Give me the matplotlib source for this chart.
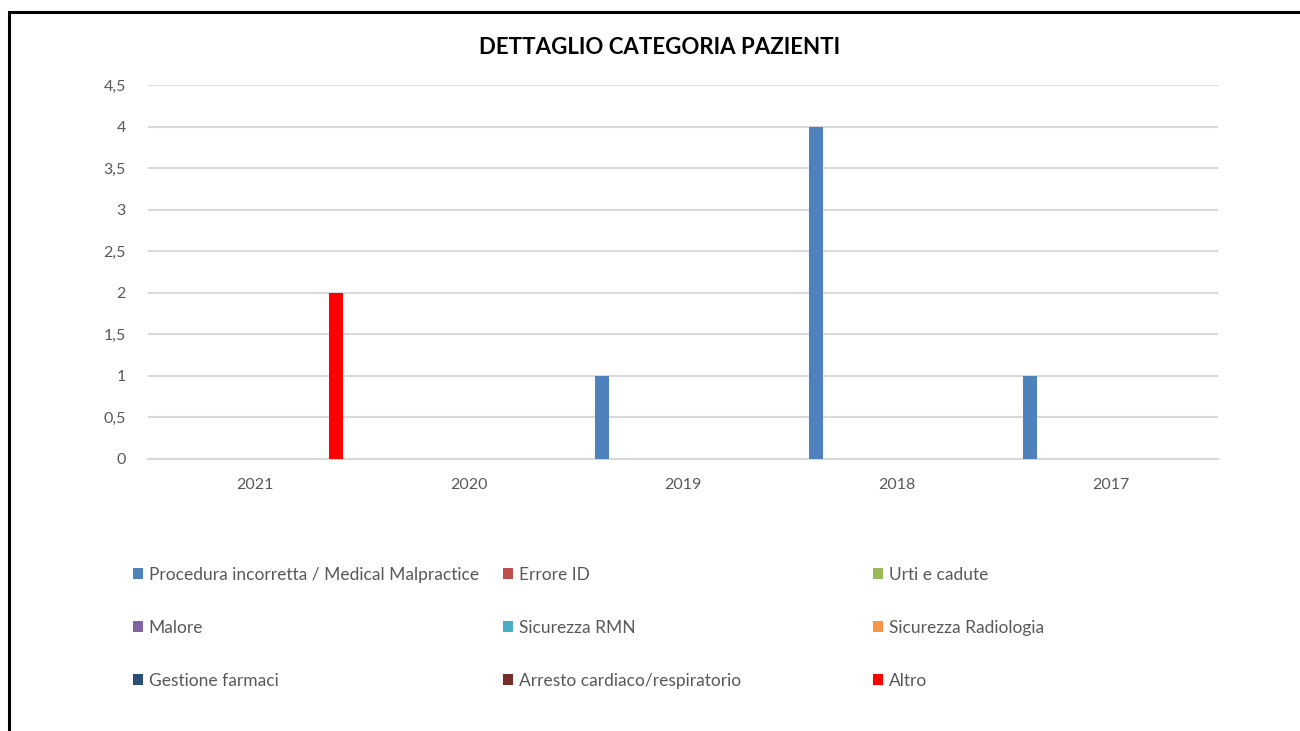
import matplotlib
matplotlib.use("Agg")
import matplotlib.pyplot as plt
from matplotlib.patches import Rectangle, Patch
import numpy as np

years = ["2021", "2020", "2019", "2018", "2017"]
series_names = [
    "Procedura incorretta / Medical Malpractice", "Errore ID", "Urti e cadute",
    "Malore", "Sicurezza RMN", "Sicurezza Radiologia",
    "Gestione farmaci", "Arresto cardiaco/respiratorio", "Altro",
]
procedura = [0, 0, 1, 4, 1]
errore_id = [0, 0, 0, 0, 0]
urti = [0, 0, 0, 0, 0]
malore = [0, 0, 0, 0, 0]
rmn = [0, 0, 0, 0, 0]
radiologia = [0, 0, 0, 0, 0]
farmaci = [0, 0, 0, 0, 0]
arresto = [0, 0, 0, 0, 0]
altro = [2, 0, 0, 0, 0]
colors = ["#4F81BD", "#C0504D", "#9BBB59", "#8064A2", "#4BACC6",
          "#F79646", "#2C4D75", "#772C2A", "#FF0000"]

plt.rcParams["font.family"] = ["Lato", "DejaVu Sans"]
TXT = "#595959"
GRID = "#D9D9D9"

fig = plt.figure(figsize=(13, 7.31), dpi=100)
ax = fig.add_axes([148 / 1300, 1 - 459 / 731, 1070 / 1300, 374 / 731])

all_series = [procedura, errore_id, urti, malore, rmn, radiologia, farmaci, arresto, altro]
x = np.arange(len(years))
step = 20.25 / 214
width = 14 / 214
for i, (vals, c) in enumerate(zip(all_series, colors)):
    ax.bar(x + (i - 4) * step, vals, width=width, color=c, zorder=3)

ax.set_xlim(-0.5, len(years) - 0.5)
ax.set_ylim(0, 4.5)
ax.set_yticks(np.arange(0, 4.51, 0.5))
ax.set_yticklabels([f"{v:g}".replace(".", ",") for v in np.arange(0, 4.51, 0.5)])
ax.set_xticks(x)
ax.set_xticklabels(years)
ax.tick_params(length=0, colors=TXT, labelsize=11.5)
ax.tick_params(axis="y", pad=16)
ax.tick_params(axis="x", pad=14)
ax.grid(axis="y", color=GRID, linewidth=1.5, zorder=0)
ax.set_axisbelow(True)
for s in ["top", "right", "left"]:
    ax.spines[s].set_visible(False)
ax.spines["bottom"].set_color(GRID)
ax.spines["bottom"].set_linewidth(1.5)

fig.text(660 / 1300, 1 - 47 / 731, "DETTAGLIO CATEGORIA PAZIENTI",
         ha="center", va="center", fontsize=16, fontweight="bold", color="#000000")

# legend: three columns, filled row by row
col_x = [133, 503, 873]
for ci in range(3):
    handles = [Patch(facecolor=colors[ci + 3 * r], edgecolor="none",
                     label=series_names[ci + 3 * r]) for r in range(3)]
    fig.legend(handles=handles, loc="upper left",
               bbox_to_anchor=(col_x[ci] / 1300, 1 - 567 / 731),
               frameon=False, fontsize=12.5, labelcolor=TXT,
               handlelength=0.6, handleheight=0.6, handletextpad=0.3,
               labelspacing=2.12, borderpad=0, borderaxespad=0)

fig.add_artist(Rectangle((9 / 1300, -0.1), 1.2, 1.1 - 12 / 731,
                         transform=fig.transFigure, fill=False,
                         edgecolor="black", linewidth=2.2))

fig.savefig("out.png", dpi=100)
